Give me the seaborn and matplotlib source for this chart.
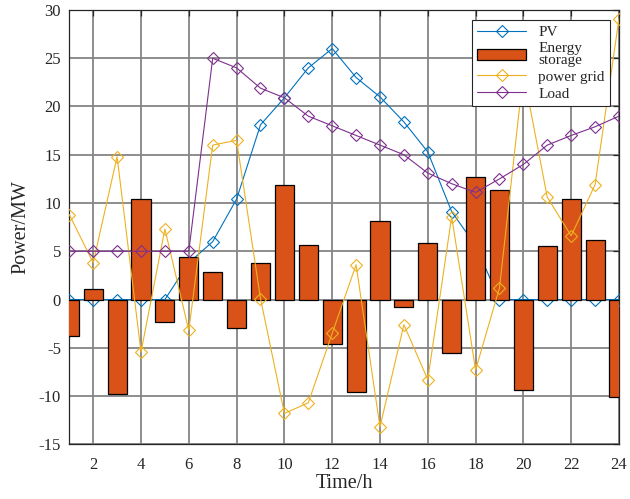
import matplotlib
matplotlib.use("Agg")
import matplotlib.pyplot as plt
import seaborn as sns
import numpy as np
import pandas as pd

hours = list(range(1, 25))
pv = [0, 0, 0, 0, 0, 3.8, 6.0, 10.4, 18.1, 20.9, 24.0, 26.0,
      23.0, 21.0, 18.4, 15.3, 9.1, 5.6, 0, 0, 0, 0, 0, 0]
storage = [-3.75, 1.1, -9.75, 10.4, -2.35, 4.45, 2.9, -2.9, 3.75, 11.85, 5.7, -4.6,
           -9.6, 8.1, -0.8, 5.85, -5.55, 12.65, 11.35, -9.4, 5.5, 10.4, 6.2, -10.15]
grid_power = [8.8, 3.8, 14.8, -5.45, 7.3, -3.2, 16.0, 16.5, 0.1, -11.8, -10.7, -3.5,
              3.6, -13.2, -2.6, -8.3, 8.6, -7.3, 1.2, 23.5, 10.6, 6.6, 11.9, 29.1]
load = [5, 5, 5, 5, 5, 5, 25, 24.0, 21.9, 20.9, 19.0, 18.0,
        17.0, 16.0, 15.0, 13.1, 12.0, 11.1, 12.5, 14.0, 16.0, 17.0, 17.9, 19.0]
x_ticks = list(range(2, 25, 2))
y_ticks = list(range(-15, 31, 5))
legend_order = ["PV", "Energy\nstorage", "power grid", "Load"]

df = pd.DataFrame({"hour": hours, "pv": pv, "storage": storage,
                   "grid": grid_power, "load": load})

sns.set_theme(style="white")
plt.rcParams["font.family"] = ["Liberation Serif", "DejaVu Serif"]

fig = plt.figure(figsize=(6.3, 4.99), dpi=100)
ax = fig.add_axes([0.110, 0.1096, 0.8725, 0.8704])

c_pv = "#0072BD"
c_st = "#D95319"
c_gr = "#EDB120"
c_ld = "#7E2F8E"
ms = 6

sns.lineplot(data=df, x="hour", y="pv", ax=ax, color=c_pv, lw=0.8,
             marker="D", markersize=ms, markerfacecolor="none",
             markeredgecolor=c_pv, markeredgewidth=0.8, label=legend_order[0], zorder=3)
sns.barplot(data=df, x="hour", y="storage", ax=ax, native_scale=True,
            color=c_st, saturation=1, edgecolor="black", linewidth=0.9,
            width=0.8, label=legend_order[1], zorder=4)
sns.lineplot(data=df, x="hour", y="grid", ax=ax, color=c_gr, lw=0.8,
             marker="D", markersize=ms, markerfacecolor="none",
             markeredgecolor=c_gr, markeredgewidth=0.8, label=legend_order[2], zorder=5)
sns.lineplot(data=df, x="hour", y="load", ax=ax, color=c_ld, lw=0.8,
             marker="D", markersize=ms, markerfacecolor="none",
             markeredgecolor=c_ld, markeredgewidth=0.8, label=legend_order[3], zorder=6)

ax.set_xlim(1, 24)
ax.set_ylim(-15, 30)
ax.set_xticks(x_ticks)
ax.set_yticks(y_ticks)
ax.set_xticklabels([str(t) for t in x_ticks])
ax.set_yticklabels([str(t) for t in y_ticks])
ax.grid(True, color="#858585", lw=1.3)
ax.set_axisbelow(True)
for s in ax.spines.values():
    s.set_visible(True)
    s.set_color("#262626")
    s.set_linewidth(0.9)
ax.tick_params(direction="in", length=4, width=0.9, top=True, right=True,
               labelsize=12, colors="#262626", pad=9)
ax.tick_params(axis="y", pad=6)
ax.set_xlabel("Time/h", fontsize=14.5, color="#262626", labelpad=1)
ax.set_ylabel("Power/MW", fontsize=14.5, color="#262626", labelpad=6)

handles, labels = ax.get_legend_handles_labels()
hmap = dict(zip(labels, handles))
handles = [hmap[l] for l in legend_order]
leg = ax.legend(handles, legend_order, loc="upper right", bbox_to_anchor=(0.9836, 0.977),
                borderaxespad=0, fontsize=11, frameon=True, fancybox=False,
                edgecolor="#262626", framealpha=1, handlelength=3.2,
                labelspacing=0.2, handletextpad=0.8, borderpad=0.35)
leg.get_frame().set_linewidth(0.8)
for t in leg.get_texts():
    t.set_multialignment("center")
    t.set_linespacing(0.9)

fig.savefig("out.png", dpi=100)
